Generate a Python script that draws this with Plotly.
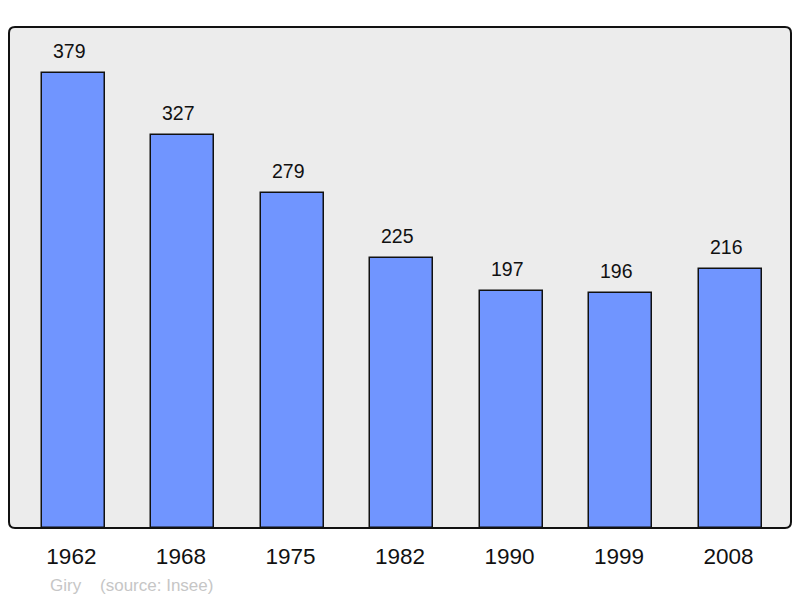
import plotly.graph_objects as go

years = ["1962", "1968", "1975", "1982", "1990", "1999", "2008"]
population = [379, 327, 279, 225, 197, 196, 216]

FONT = "Liberation Sans, Arial"
PW, PH = 782, 501  # plot area size in px

fig = go.Figure()
fig.add_trace(go.Bar(
    x=years, y=population, width=0.575,
    marker=dict(color="#7095ff", line=dict(color="#111111", width=1.5)),
    hoverinfo="skip",
))
for i, v in enumerate(population):
    fig.add_annotation(x=i, y=v, text=str(v), showarrow=False, yanchor="bottom",
                       yshift=9, xshift=-4, font=dict(family=FONT, size=19.5, color="#111"))

fig.add_annotation(xref="paper", yref="paper", x=(48 - 9) / PW, y=-(585 - 528) / PH,
                   xanchor="left", yanchor="middle", showarrow=False,
                   text="Giry\u00a0\u00a0\u00a0\u00a0(source: Insee)",
                   font=dict(family=FONT, size=17, color="#c6c6c6"))

# rounded frame
rx, ry = 6 / PW, 6 / PH
path = (f"M {rx},0 L {1-rx},0 Q 1,0 1,{ry} L 1,{1-ry} Q 1,1 {1-rx},1 "
        f"L {rx},1 Q 0,1 0,{1-ry} L 0,{ry} Q 0,0 {rx},0 Z")
fig.add_shape(type="path", xref="paper", yref="paper", path=path,
              fillcolor="#ececec", line=dict(width=0), layer="below")
fig.add_shape(type="path", xref="paper", yref="paper", path=path,
              line=dict(color="#111111", width=2), layer="above")

fig.update_layout(
    width=792, height=590,
    margin=dict(l=1, r=9, t=19, b=70),
    paper_bgcolor="white", plot_bgcolor="white",
    showlegend=False,
    xaxis=dict(type="category", range=[-0.588, 6.553], showgrid=False, zeroline=False,
               ticks="", tickfont=dict(family=FONT, size=22.5, color="#111"),
               ticklabelstandoff=12, ticklabelshift=-2),
    yaxis=dict(range=[0, 417.3], visible=False, showgrid=False),
    bargap=0,
)
fig.write_html("out.html")
